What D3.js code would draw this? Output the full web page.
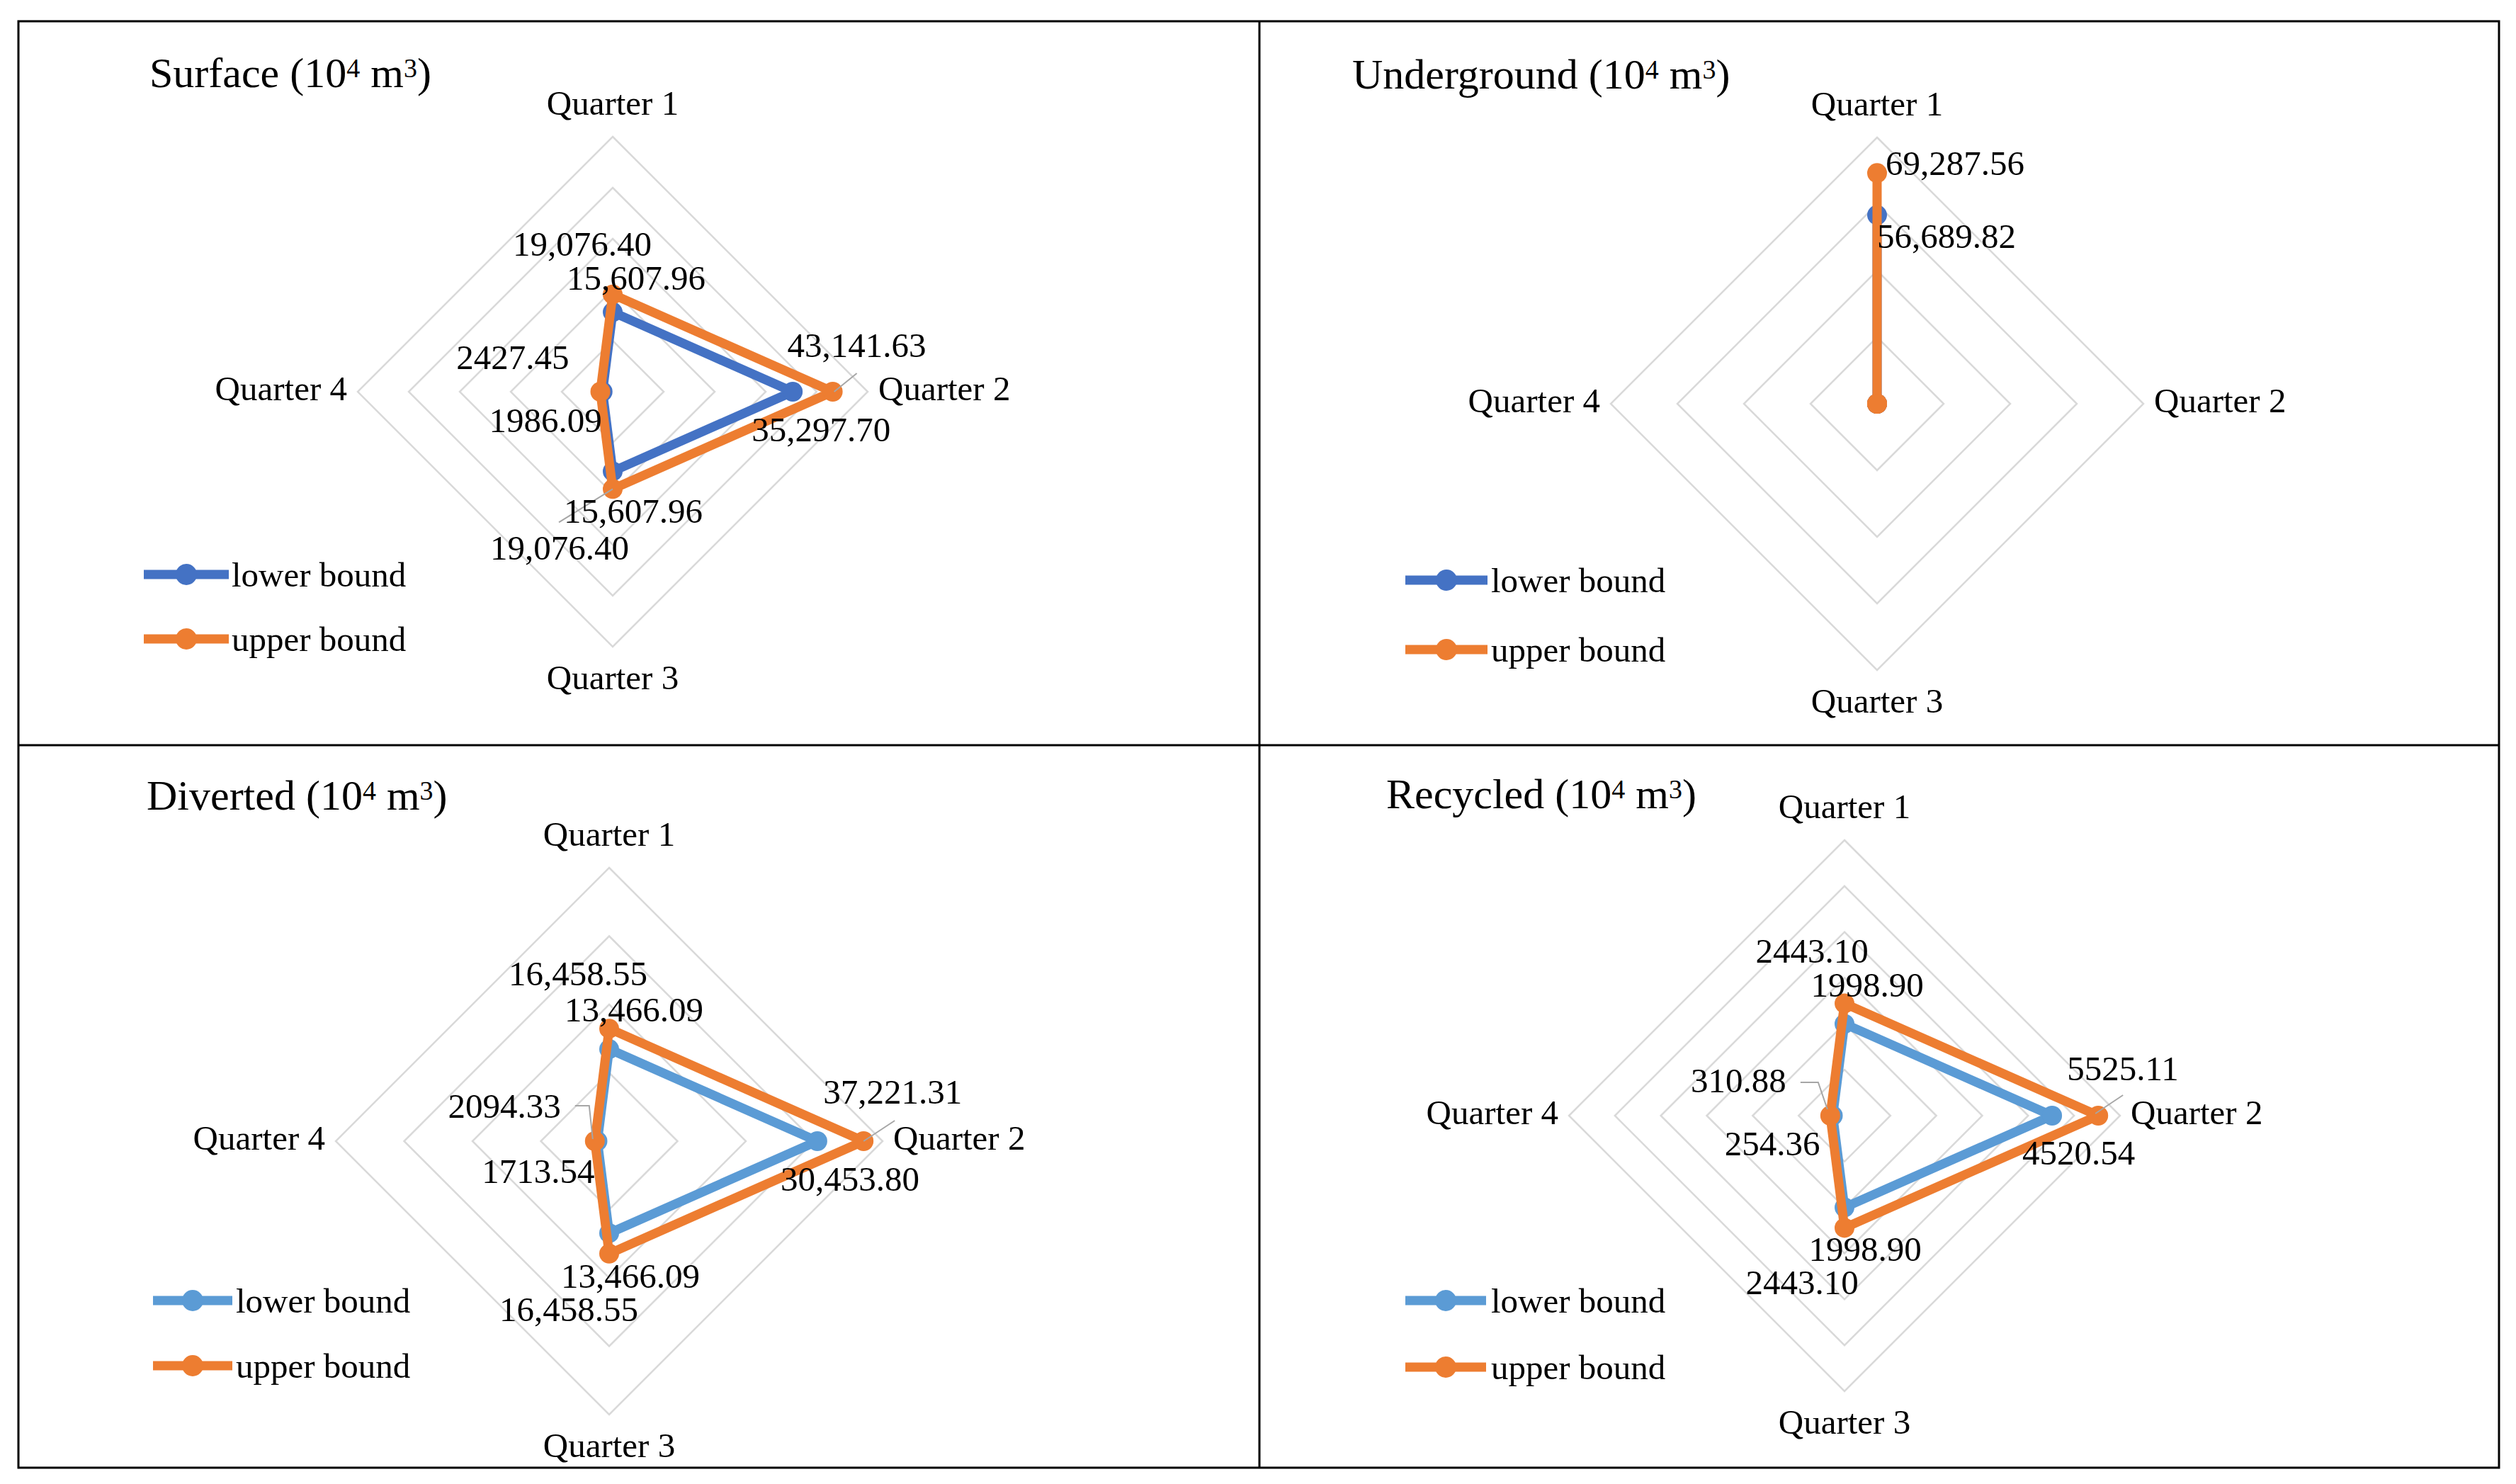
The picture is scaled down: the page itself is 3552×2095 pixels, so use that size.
<!DOCTYPE html>
<html>
<head>
<meta charset="utf-8">
<script src="https://cdn.jsdelivr.net/npm/d3@7"></script>
<style>
html,body{margin:0;padding:0;background:#fff;}
svg{display:block;}
</style>
</head>
<body>
<svg id="chart" width="3552" height="2095"></svg>
<script>
// ---------------- DATA ----------------
const quarters = ["Quarter 1", "Quarter 2", "Quarter 3", "Quarter 4"];
const seriesNames = ["lower bound", "upper bound"];
const panelTitles = ["Surface", "Underground", "Diverted", "Recycled"];

const surfaceLower = [15607.96, 35297.70, 15607.96, 1986.09];
const surfaceUpper = [19076.40, 43141.63, 19076.40, 2427.45];
const undergroundLower = [56689.82, 0, 0, 0];
const undergroundUpper = [69287.56, 0, 0, 0];
const divertedLower = [13466.09, 30453.80, 13466.09, 1713.54];
const divertedUpper = [16458.55, 37221.31, 16458.55, 2094.33];
const recycledLower = [1998.90, 4520.54, 1998.90, 254.36];
const recycledUpper = [2443.10, 5525.11, 2443.10, 310.88];

const surfaceTicks = [10000, 20000, 30000, 40000, 50000];
const undergroundTicks = [20000, 40000, 60000, 80000];
const divertedTicks = [10000, 20000, 30000, 40000];
const recycledTicks = [1000, 2000, 3000, 4000, 5000, 6000];

// ---------------- LAYOUT / STYLE ----------------
const ORANGE = "#ED7D31";
const FONT = "'Liberation Serif','Times New Roman',serif";
const layout = [
  { cx: 865, cy: 553, R: 360, blue: "#4472C4", titleX: 211, titleY: 123,
    legX: 203, legY: [811, 902], legW: 120, legTextX: 327,
    lab: {
      upper: [["middle", -43, -55], ["start", -64, -49], ["middle", -75, 100], ["end", -44, -32]],
      lower: [["middle", 33, -32], ["start", -58, 70], ["middle", 29, 73], ["end", -1, 57]]
    },
    leaders: [
      { s: "upper", q: 1, pts: [[2, 0], [34, -26]] },
      { s: "upper", q: 2, pts: [[0, 0], [-76, 47]] }
    ] },
  { cx: 2650, cy: 570, R: 376, blue: "#4472C4", titleX: 1909, titleY: 125,
    legX: 1984, legY: [819, 917], legW: 116, legTextX: 2105,
    lab: {
      upper: [["start", 12, 3], null, null, null],
      lower: [["start", 0, 46], null, null, null]
    },
    leaders: [] },
  { cx: 860, cy: 1611, R: 386, blue: "#5B9BD5", titleX: 207, titleY: 1143,
    legX: 216, legY: [1836, 1928], legW: 112, legTextX: 333,
    lab: {
      upper: [["middle", -44, -61], ["start", -57, -53], ["middle", -57, 95], ["end", -48, -33]],
      lower: [["middle", 35, -39], ["start", -52, 70], ["middle", 30, 77], ["end", -4, 59]]
    },
    leaders: [
      { s: "upper", q: 1, pts: [[0, 0], [44, -29]] },
      { s: "upper", q: 3, pts: [[-28, -50], [-8, -50], [-3, -3]] }
    ] },
  { cx: 2604, cy: 1575, R: 389, blue: "#5B9BD5", titleX: 1957, titleY: 1141,
    legX: 1984, legY: [1836, 1930], legW: 114, legTextX: 2105,
    lab: {
      upper: [["middle", -46, -58], ["start", -44, -50], ["middle", -60, 94], ["end", -62, -33]],
      lower: [["middle", 32, -38], ["start", -42, 69], ["middle", 29, 75], ["end", -18, 56]]
    },
    leaders: [
      { s: "upper", q: 1, pts: [[-4, -3], [35, -29]] },
      { s: "upper", q: 3, pts: [[-42, -47], [-17, -47], [-4, -9]] }
    ] }
];

const panelData = [
  { lower: surfaceLower, upper: surfaceUpper, ticks: surfaceTicks },
  { lower: undergroundLower, upper: undergroundUpper, ticks: undergroundTicks },
  { lower: divertedLower, upper: divertedUpper, ticks: divertedTicks },
  { lower: recycledLower, upper: recycledUpper, ticks: recycledTicks }
];

// ---------------- DRAW ----------------
const svg = d3.select("#chart");
svg.append("rect").attr("width", 3552).attr("height", 2095).attr("fill", "#fff");

const fmtBig = d3.format(",.2f"), fmtSmall = d3.format(".2f");
const fmt = v => (v >= 10000 ? fmtBig(v) : fmtSmall(v));
const angle = i => i * Math.PI / 2;

panelData.forEach((pd, k) => {
  const L = layout[k];
  const r = d3.scaleLinear().domain([0, d3.max(pd.ticks)]).range([0, L.R]);
  const pt = (v, i) => [L.cx + r(v) * Math.sin(angle(i)), L.cy - r(v) * Math.cos(angle(i))];
  const g = svg.append("g");

  // grid rings
  const ring = d3.line().curve(d3.curveLinearClosed);
  g.selectAll("path.ring").data(pd.ticks).join("path")
    .attr("class", "ring")
    .attr("d", t => ring(quarters.map((q, i) => pt(t, i))))
    .attr("fill", "none").attr("stroke", "#D9D9D9").attr("stroke-width", 2.5);

  // axis (category) labels
  const axLab = [
    { x: L.cx, y: L.cy - L.R - 31, a: "middle" },
    { x: L.cx + L.R + 15, y: L.cy + 12, a: "start" },
    { x: L.cx, y: L.cy + L.R + 60, a: "middle" },
    { x: L.cx - L.R - 15, y: L.cy + 12, a: "end" }
  ];
  g.selectAll("text.ax").data(quarters).join("text")
    .attr("class", "ax")
    .attr("x", (d, i) => axLab[i].x).attr("y", (d, i) => axLab[i].y)
    .attr("text-anchor", (d, i) => axLab[i].a)
    .attr("font-family", FONT).attr("font-size", 49).attr("fill", "#000")
    .text(d => d);

  // series
  const series = [
    { key: "lower", name: seriesNames[0], vals: pd.lower, color: L.blue },
    { key: "upper", name: seriesNames[1], vals: pd.upper, color: ORANGE }
  ];
  const radial = d3.lineRadial().angle((d, i) => angle(i)).radius(d => r(d)).curve(d3.curveLinearClosed);
  series.forEach(s => {
    const sg = g.append("g").attr("transform", `translate(${L.cx},${L.cy})`);
    sg.append("path").attr("d", radial(s.vals))
      .attr("fill", "none").attr("stroke", s.color).attr("stroke-width", 13)
      .attr("stroke-linejoin", "round");
    sg.selectAll("circle").data(s.vals).join("circle")
      .attr("cx", (d, i) => r(d) * Math.sin(angle(i)))
      .attr("cy", (d, i) => -r(d) * Math.cos(angle(i)))
      .attr("r", 14).attr("fill", s.color);
  });

  // leader lines
  L.leaders.forEach(ld => {
    const vals = ld.s === "upper" ? pd.upper : pd.lower;
    const p = pt(vals[ld.q], ld.q);
    g.append("path")
      .attr("d", d3.line()(ld.pts.map(o => [p[0] + o[0], p[1] + o[1]])))
      .attr("fill", "none").attr("stroke", "#A6A6A6").attr("stroke-width", 2);
  });

  // data labels
  series.forEach(s => {
    s.vals.forEach((v, i) => {
      const cfg = L.lab[s.key][i];
      if (!cfg || v === 0) return;
      const p = pt(v, i);
      g.append("text")
        .attr("x", p[0] + cfg[1]).attr("y", p[1] + cfg[2])
        .attr("text-anchor", cfg[0])
        .attr("font-family", FONT).attr("font-size", 49).attr("fill", "#000")
        .text(fmt(v));
    });
  });

  // title
  const t = g.append("text").attr("x", L.titleX).attr("y", L.titleY)
    .attr("font-family", FONT).attr("font-size", 60).attr("fill", "#000");
  t.append("tspan").text(panelTitles[k] + " (10");
  t.append("tspan").attr("dy", -14).attr("font-size", 38).text("4");
  t.append("tspan").attr("dy", 14).text(" m");
  t.append("tspan").attr("dy", -14).attr("font-size", 38).text("3");
  t.append("tspan").attr("dy", 14).text(")");

  // legend
  series.forEach((s, j) => {
    const y = L.legY[j];
    const lg = g.append("g");
    lg.append("line").attr("x1", L.legX).attr("x2", L.legX + L.legW)
      .attr("y1", y).attr("y2", y).attr("stroke", s.color).attr("stroke-width", 13);
    lg.append("circle").attr("cx", L.legX + L.legW / 2).attr("cy", y).attr("r", 15).attr("fill", s.color);
    lg.append("text").attr("x", L.legTextX).attr("y", y + 17)
      .attr("font-family", FONT).attr("font-size", 49).attr("fill", "#000")
      .text(s.name);
  });
});

// frame
const frame = svg.append("g").attr("stroke", "#000").attr("stroke-width", 3).attr("fill", "none");
frame.append("rect").attr("x", 26).attr("y", 30).attr("width", 3528 - 26).attr("height", 2072 - 30);
frame.append("line").attr("x1", 1778).attr("x2", 1778).attr("y1", 30).attr("y2", 2072);
frame.append("line").attr("x1", 26).attr("x2", 3528).attr("y1", 1052).attr("y2", 1052);
</script>
</body>
</html>
